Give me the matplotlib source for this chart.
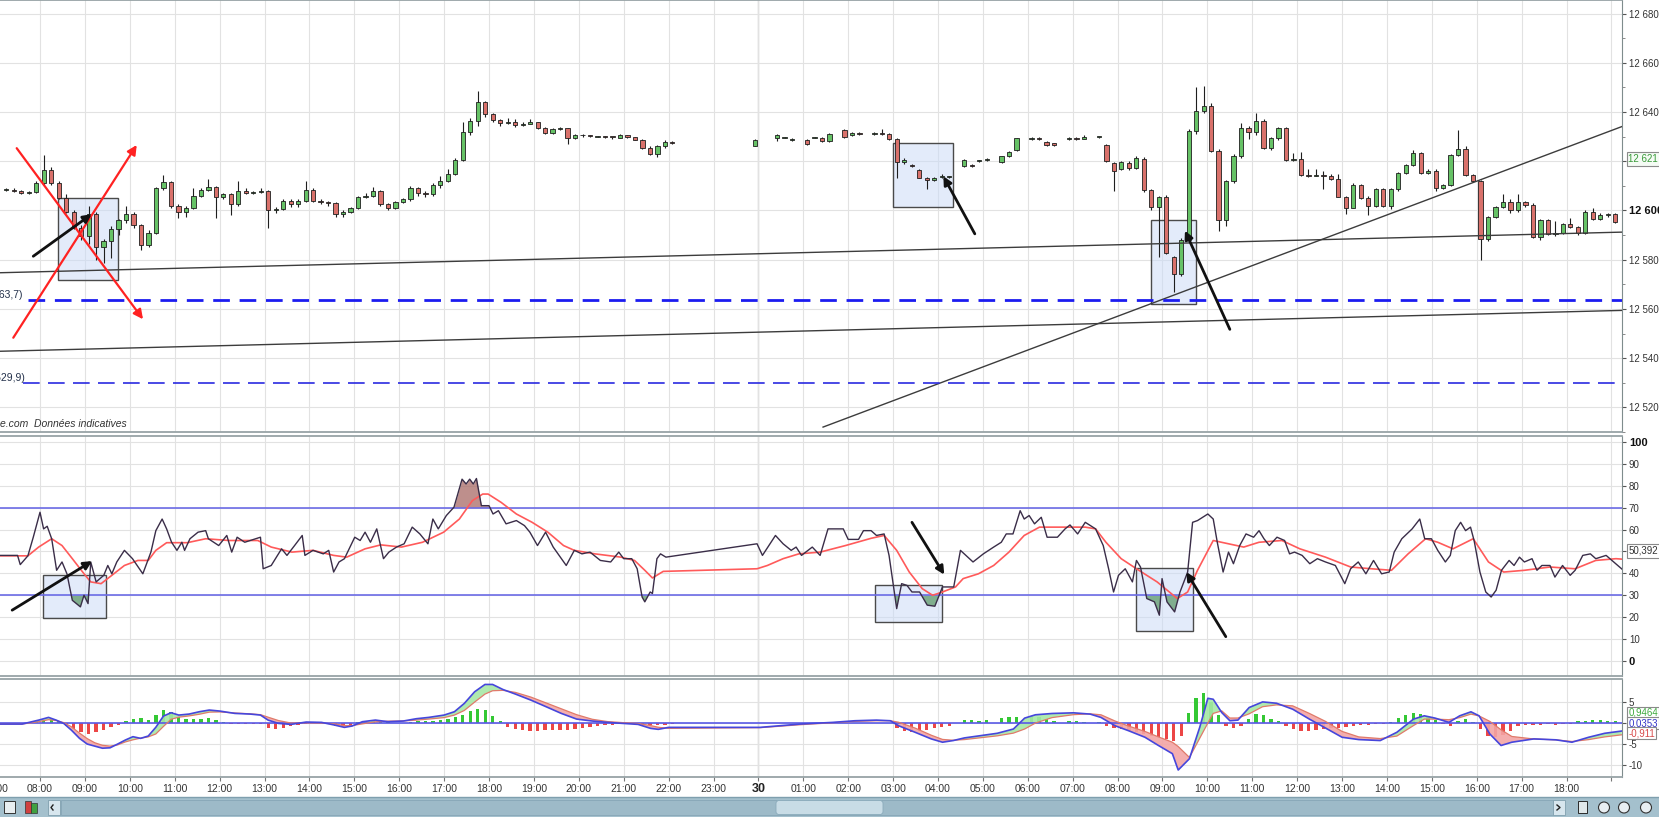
import numpy as np
import matplotlib
matplotlib.use("Agg")
import matplotlib.pyplot as plt
from matplotlib.patches import Rectangle, FancyBboxPatch
from matplotlib.transforms import blended_transform_factory as blend

plt.rcParams['font.family'] = ['Liberation Sans Narrow', 'Liberation Sans', 'DejaVu Sans']
plt.rcParams['axes.unicode_minus'] = False

W, H = 1659, 817

# x unit: hours since the 29th 00:00 (the 30th 00:00 is 24)
X_MIN, X_MAX = 7.109, 43.234

# ---------------- 10 min candles, 29th 07:10 -> 22:00 ----------------
DAY1_START = 7 + 10 / 60
o1 = [12608.5, 12608.5, 12608, 12607, 12607.5,
      12611, 12616.5, 12611, 12605, 12599.5, 12593,
      12589.5, 12598.5, 12585, 12587.5, 12592.5, 12596,
      12598.5, 12594, 12586, 12591, 12609, 12611.5,
      12602, 12599.5, 12601, 12606, 12608.5, 12609.5,
      12605.5, 12606.5, 12602.5, 12608, 12607, 12607.5,
      12608, 12600, 12600.5, 12604, 12602.5, 12604,
      12608.5, 12604, 12603.5, 12603, 12598.5, 12599.5,
      12601, 12605.5, 12606, 12608, 12602.5, 12601,
      12603.5, 12604.5, 12609, 12607, 12606.5, 12610.5,
      12612, 12615, 12620.5, 12632, 12636.5, 12644,
      12639, 12636.7, 12635.5, 12636, 12634.7, 12635.3,
      12636, 12633.5, 12631.5, 12633, 12633.5, 12629.5,
      12630.5, 12630.3, 12630, 12630, 12629.7, 12629.5,
      12630.5, 12629.8, 12628.8, 12625.5, 12622.8, 12626,
      12628]
h1 = [12609, 12609, 12608.5, 12608, 12612,
      12622.6, 12617.5, 12612, 12606.5, 12600, 12594,
      12602, 12599.5, 12588.5, 12593.5, 12596.5, 12602,
      12599.5, 12594.5, 12592, 12609.5, 12614.3, 12612,
      12602.5, 12602, 12609, 12609, 12612.6, 12610,
      12607, 12607, 12612, 12609, 12608, 12609,
      12608.5, 12601.5, 12604.5, 12604.5, 12604.5, 12612,
      12609, 12604.5, 12604, 12603.5, 12600, 12601.5,
      12606, 12607, 12609.5, 12608.5, 12603, 12604,
      12605, 12610, 12609.5, 12608, 12611, 12614,
      12617, 12621.5, 12636, 12637.5, 12648.5, 12644.5,
      12639.5, 12637, 12637.5, 12637, 12636, 12637,
      12636, 12634, 12633.5, 12634, 12633.5, 12631,
      12631, 12630.5, 12630.3, 12630.2, 12630, 12631,
      12630.8, 12630, 12629, 12626, 12626.5, 12628.5,
      12628.3]
l1 = [12608, 12607.5, 12606.5, 12606.5, 12607,
      12610.5, 12610.5, 12604.5, 12599, 12592.5, 12588,
      12586.5, 12580, 12578.5, 12580.5, 12590, 12595,
      12593, 12584, 12585, 12590.5, 12608.5, 12601,
      12597, 12597.2, 12600.5, 12605.5, 12608, 12597,
      12604.5, 12598, 12602, 12606.5, 12606.5, 12607,
      12593, 12599, 12600, 12601.5, 12601.5, 12603.5,
      12603.5, 12602.5, 12602, 12597.5, 12597.5, 12599,
      12600.5, 12605, 12605.5, 12602, 12600, 12600.5,
      12603, 12604, 12606, 12605.5, 12606, 12609,
      12611.5, 12614.5, 12620, 12630.5, 12634.5, 12638,
      12636, 12634.5, 12635, 12634, 12634.5, 12635,
      12633, 12631, 12631, 12632.5, 12627, 12629,
      12630, 12629.8, 12629.8, 12629.5, 12629.2, 12629.3,
      12629.5, 12628.5, 12625, 12622.5, 12621.7, 12625.5,
      12627]
c1 = [12608.5, 12608, 12607, 12607.5, 12611,
      12616.5, 12611, 12605, 12599.5, 12593, 12589.5,
      12598.5, 12585, 12587.5, 12592.5, 12596, 12598.5,
      12594, 12586, 12591, 12609, 12611.5, 12602,
      12599.5, 12601, 12606, 12608.5, 12609.5, 12605.5,
      12606.5, 12602.5, 12608, 12607, 12607.5, 12608,
      12600, 12600.5, 12604, 12602.5, 12604, 12608.5,
      12604, 12603.5, 12603, 12598.5, 12599.5, 12601,
      12605.5, 12606, 12608, 12602.5, 12601, 12603.5,
      12604.5, 12609, 12607, 12606.5, 12610.5, 12612,
      12615, 12620.5, 12632, 12636.5, 12644, 12639,
      12636.7, 12635.5, 12636, 12634.7, 12635.3, 12636,
      12633.5, 12631.5, 12633, 12633.5, 12629.5, 12630.5,
      12630.3, 12630, 12630, 12629.7, 12629.5, 12630.5,
      12629.8, 12628.8, 12625.5, 12622.8, 12626, 12628,
      12627.3]

# ---------------- 10 min candles, 29th 23:50 -> 30th 19:00 ----------------
DAY2_START = 23 + 50 / 60
o2 = [12626,
      None, None, 12629.5, 12629.5, 12628.5, None,
      12628.8, 12629.5, 12629.5, 12628.2, None, 12632.5,
      12630.5, 12631.5, None, 12631, 12631.5, 12631,
      12629, 12619.6, 12618.5, 12616.3, 12613, 12612.5,
      12613.5, 12613.6, None, 12617.9, 12618.5, 12620,
      12620.5, None, 12619.6, 12622, 12624.6, None,
      12629, 12629.5, 12628, 12627.3, None, 12629,
      12629.5, 12629, None, 12629.7, 12626.4, 12619.3,
      12617, 12619.3, 12617.3, 12621, 12608.2, 12601.3,
      12605.6, 12580.9, 12574.2, 12588.2, 12632.4, 12640.4,
      12642.4, 12624.3, 12596, 12612, 12622.2, 12633.6,
      12632, 12636.3, 12625.3, 12629.3, 12633.3, 12620.6,
      12621, 12614.6, 12614, 12614.6, 12613.9, 12612.7,
      12605.6, 12601.1, 12610.3, 12605, 12602, 12608.6,
      12602, 12608.6, 12615.3, 12618.6, 12623.3, 12615.3,
      12616, 12609.3, 12610.3, 12622.6, 12625, 12614.6,
      12612, 12588.6, 12597.3, 12601.3, 12603.3, 12600,
      12603.5, 12602.3, 12589.3, 12596, 12590.5, 12591,
      12594.5, 12593.2, 12591, 12599.2, 12596.5, 12598,
      12598.5]
h2 = [12629,
      None, None, 12631, 12629.8, 12629.3, None,
      12629.2, 12629.7, 12629.8, 12631.5, None, 12633,
      12632, 12632, None, 12632, 12633, 12631.3,
      12629.5, 12621.5, 12619, 12616.8, 12613.5, 12613.5,
      12614.8, 12614, None, 12620.8, 12618.8, 12620.3,
      12621.5, None, 12622.2, 12624.2, 12629.6, None,
      12629.8, 12629.8, 12628.3, 12627.5, None, 12629.8,
      12630, 12630.5, None, 12630, 12626.8, 12619.8,
      12620, 12620, 12622, 12621.8, 12608.8, 12606,
      12606.2, 12581.5, 12588.8, 12633, 12650.1, 12650.7,
      12643.5, 12625, 12612.5, 12622.8, 12635.6, 12634.5,
      12639.6, 12637, 12630, 12634, 12634, 12623.5,
      12623.6, 12617, 12616.8, 12616.2, 12615, 12614.8,
      12606, 12611, 12610.8, 12606, 12609.2, 12609,
      12609, 12615.8, 12619, 12624.6, 12623.8, 12616.8,
      12616.8, 12610.8, 12623, 12632.7, 12626.2, 12615,
      12612.5, 12597.8, 12601.8, 12606.6, 12604.5, 12606.6,
      12604, 12603, 12596.5, 12596.5, 12595.8, 12595,
      12597, 12593.5, 12600, 12601, 12598.8, 12599,
      12598.8]
l2 = [12626,
      None, None, 12628.2, 12629.3, 12628.2, None,
      12626.5, 12629.3, 12628, 12628, None, 12629.5,
      12630.3, 12630.8, None, 12630.8, 12630.8, 12628.8,
      12613, 12619, 12617.8, 12613, 12608.6, 12612,
      12613, 12613.2, None, 12617.5, 12617.5, 12619.7,
      12620, None, 12619.4, 12621.8, 12624.3, None,
      12628.7, 12628.8, 12626.2, 12626.2, None, 12628.8,
      12628.8, 12628.9, None, 12629.5, 12619.5, 12607.9,
      12616.5, 12616.5, 12617, 12607.5, 12600, 12581.2,
      12582.5, 12566.8, 12573.5, 12587.5, 12631, 12639.5,
      12623.8, 12591.5, 12593.5, 12611, 12621.5, 12629,
      12630.5, 12624.8, 12624.5, 12628.5, 12620, 12620,
      12614, 12613.5, 12613.8, 12608.6, 12612.3, 12605.3,
      12598.5, 12600.8, 12604.5, 12598, 12601.5, 12601.5,
      12600.5, 12608, 12615, 12618.2, 12614.8, 12614.8,
      12607.9, 12608.8, 12610, 12622, 12614.2, 12611.5,
      12580, 12587.5, 12596.8, 12600.8, 12599, 12599.5,
      12601.5, 12588.8, 12588, 12590, 12589.5, 12590.5,
      12592.8, 12590, 12590.5, 12596, 12596, 12597.2,
      12595]
c2 = [12628.6,
      None, None, 12630.5, 12629.5, 12629, None,
      12626.8, 12629.5, 12628.2, 12631.1, None, 12630,
      12631.5, 12631, None, 12631.5, 12631, 12629,
      12619.6, 12620.5, 12618, 12613.3, 12612.5, 12613,
      12614.2, 12613.6, None, 12620.4, 12618, 12620,
      12621, None, 12622, 12623.7, 12629.3, None,
      12629.5, 12629, 12626.4, 12626.4, None, 12629.5,
      12629, 12630, None, 12629.7, 12620, 12616,
      12619.5, 12617.3, 12621.3, 12608.2, 12601.3, 12605.6,
      12582.9, 12574.2, 12588.2, 12632.4, 12640.4, 12642.4,
      12624.3, 12596, 12612, 12622.2, 12633.6, 12632,
      12636.3, 12625.3, 12629.3, 12633.3, 12620.6, 12621,
      12614.6, 12614, 12614.6, 12613.9, 12612.7, 12605.6,
      12601.1, 12610.3, 12605, 12602, 12608.6, 12602,
      12608.6, 12615.3, 12618.6, 12623.3, 12615.3, 12616,
      12609.3, 12610.3, 12622.6, 12625, 12614.6, 12612,
      12588.6, 12597.3, 12601.3, 12603.3, 12600, 12603.5,
      12602.3, 12589.3, 12596, 12590.5, 12591, 12594.5,
      12593.2, 12591, 12599.2, 12596.5, 12598, 12598.5,
      12595.4]

# MACD histogram on the same 10 min slots
hist1 = [0, 0, 0, 0.1, 0.4,
         0.8, 1.0, 0.6, -0.6, -1.4, -2.2,
         -2.5, -2.2, -1.6, -1.0, -0.5, 0.6,
         1.0, 1.1, 0.8, 1.8, 3.1, 2.6,
         1.4, 1.0, 0.9, 1.0, 1.1, 0.8,
         0.3, -0.2, -0.3, -0.3, -0.2, -0.3,
         -1.2, -1.3, -1.1, -0.8, -0.5, -0.2,
         0.1, 0.1, -0.1, -0.7, -1.0, -0.6,
         0.2, 0.4, 0.5, 0.4, 0.2, 0.1,
         0.1, 0.2, 0.4, 0.5, 0.6, 0.8,
         1.0, 1.4, 2.0, 2.8, 3.3, 3.0,
         1.6, 0.4, -0.9, -1.5, -1.7, -1.8,
         -1.8, -1.7, -1.7, -1.6, -1.6, -1.4,
         -1.2, -1.0, -0.7, -0.5, -0.4, -0.3,
         -0.3, -0.3, -0.4, -0.5, -0.5, -0.4,
         -0.3]
hist2 = [0.1,
         None, None, 0.1, 0.1, 0.1, None,
         0.1, 0.1, 0.1, 0.1, None, 0.1,
         0.1, 0.1, None, 0.1, 0.1, -0.1,
         -1.2, -2.0, -2.2, -1.9, -1.6, -1.2,
         -0.9, -0.6, None, 0.7, 0.7, 0.6,
         0.8, None, 1.2, 1.4, 1.5, None,
         1.7, 1.4, 1.0, 0.5, None, 0.4,
         0.4, 0.3, None, 0.2, -0.6, -1.2,
         -1.5, -1.8, -2.1, -2.6, -3.0, -3.4,
         -3.9, -4.2, -3.0, 2.5, 6.0, 7.2,
         5.0, 2.0, -0.6, -1.2, -0.8, 1.0,
         2.1, 1.8, 1.0, 0.5, -0.8, -1.4,
         -1.8, -1.8, -1.7, -1.5, -1.2, -1.1,
         -0.9, -0.7, -0.5, -0.4, -0.3, -0.2,
         0.3, 1.2, 2.0, 2.5, 2.2, 1.5,
         0.8, -0.3, -0.8, 0.6, 0.9, 0.3,
         -1.5, -3.0, -3.4, -2.8, -1.8, -0.8,
         -0.4, -0.4, -0.4, -0.3, -0.4, -0.3,
         -0.2, 0.5, 0.6, 0.7, 0.7, 0.6,
         0.6]

# ---------------- RSI and its average (read points) ----------------
rsi_t = [7.09, 7.5, 7.56, 7.73, 7.85, 8.0, 8.08, 8.16, 8.26, 8.37, 8.49, 8.6, 8.72, 8.9,
         8.98, 9.07, 9.13, 9.25, 9.42, 9.51, 9.6, 9.71, 9.88, 10.06, 10.29, 10.47, 10.58,
         10.72, 10.82, 10.93, 11.05, 11.16, 11.22, 11.34, 11.52, 11.69, 11.75, 11.98, 12.16,
         12.27, 12.39, 12.56, 12.8, 12.91, 12.97, 13.15, 13.38, 13.5, 13.67, 13.84, 13.9,
         14.08, 14.31, 14.43, 14.54, 14.66, 14.78, 15.01, 15.13, 15.24, 15.36, 15.5, 15.65,
         15.77, 15.94, 16.11, 16.29, 16.46, 16.64, 16.75, 16.87, 17.05, 17.22, 17.4, 17.49,
         17.57, 17.65, 17.72, 17.83, 18.0, 18.09, 18.21, 18.38, 18.61, 18.79, 18.91, 19.08,
         19.26, 19.43, 19.72, 19.9, 20.07, 20.25, 20.48, 20.71, 20.89, 21.0, 21.18, 21.3,
         21.41, 21.47, 21.59, 21.64, 21.74, 21.82, 21.94, 23.97, 24.09, 24.38, 24.55, 24.73,
         24.84, 24.96, 25.2, 25.375, 25.55, 25.89, 26.0, 26.23, 26.34, 26.51, 26.63, 26.8,
         26.91, 27.08, 27.19, 27.31, 27.42, 27.59, 27.76, 27.93, 28.1, 28.35, 28.5, 28.78,
         29.01, 29.24, 29.41, 29.52, 29.67, 29.83, 29.92, 30.03, 30.15, 30.3, 30.43, 30.66,
         30.83, 30.94, 31.11, 31.28, 31.51, 31.68, 31.8, 31.91, 32.02, 32.17, 32.33, 32.42,
         32.51, 32.65, 32.82, 32.93, 32.99, 33.1, 33.27, 33.39, 33.56, 33.67, 33.78, 34.01,
         34.13, 34.22, 34.35, 34.47, 34.58, 34.72, 34.86, 35.03, 35.15, 35.26, 35.38, 35.55,
         35.72, 35.83, 35.94, 36.11, 36.28, 36.45, 36.63, 36.85, 37.06, 37.19, 37.36, 37.53,
         37.7, 37.88, 38.05, 38.16, 38.33, 38.56, 38.73, 38.84, 38.99, 39.13, 39.3, 39.41,
         39.52, 39.64, 39.75, 39.86, 39.94, 40.07, 40.2, 40.32, 40.43, 40.55, 40.72, 40.83,
         40.95, 41.06, 41.23, 41.34, 41.45, 41.63, 41.74, 41.91, 42.08, 42.19, 42.36, 42.53,
         42.65, 42.88, 43.05, 43.23]
rsi_v = [48.2, 48.2, 44, 48, 56.5, 67.9, 60.3, 61.5, 55.8, 41.4, 45.2, 39.8, 27.7, 24.7,
         30, 26.2, 45.2, 36.1, 39.1, 43.6, 39.8, 45.2, 50.5, 46.7, 39.8, 49.7, 59.5,
         64.8, 60.3, 54.2, 50.5, 54.2, 50.5, 55.8, 58.8, 59.5, 55.8, 52.7, 57.3,
         49.7, 56.5, 54.2, 55.8, 56.5, 42.1, 43.6, 51.2, 48.2, 52.7, 57.3, 48.2,
         50.5, 48.9, 50.5, 40.6, 45.2, 46.7, 56.5, 55, 58.8, 54.2, 60.3, 46.7,
         49.7, 52, 53.5, 61.1, 58, 53.5, 64.8, 60.3, 66.4, 70.2, 83, 80.8,
         83, 80.8, 83.3, 70.9, 70.9, 67.1, 68.6, 62.6, 64.1, 61.8, 58.8, 52.7,
         58.8, 52, 43.6, 50.5, 48.9, 49.7, 45.9, 45.2, 49.7, 46.7, 46.7, 42.1,
         29.2, 27, 31.5, 30.8, 46.7, 48.9, 47.4, 53.5, 48.2, 57.3, 53.5, 50.5,
         52, 48.2, 52, 48.2, 60.3, 60.3, 55.5, 55.5, 59.5, 59.5, 57.3, 58,
         48.2, 23.9, 35.3, 34.5, 31.5, 31.5, 25.5, 25, 33.8, 33.8, 50.5, 45.2,
         48.9, 52, 54.2, 58, 58, 68.6, 64.8, 66.4, 62.6, 65.6, 56.5, 56.5,
         60.3, 62.1, 58, 63.3, 60.3, 52.7, 42.1, 31.5, 39.1, 42.1, 36.1, 45.9,
         42.9, 28.5, 27, 20.9, 37.6, 27, 22.4, 31.5, 40.6, 63.3, 64.1, 67.1,
         64.8, 54.2, 40.6, 49.7, 44.4, 52.7, 58, 56.5, 59.5, 55.8, 52.7, 56.5,
         55, 48.9, 49.7, 48.2, 44.4, 46.7, 45.2, 43.6, 35.3, 42.1, 45.2, 39.8,
         45.9, 39.8, 40.6, 49.7, 55.8, 60.3, 64.8, 55.8, 55.8, 50.5, 45.2, 48.2,
         59.5, 63.3, 59.5, 61.1, 55, 40.6, 31.5, 29.2, 32.3, 41.4, 45.9, 43.6,
         47.4, 45.2, 46.7, 41.4, 43.6, 43.6, 38.3, 43.6, 39.1, 41.4, 48.2, 48.9,
         46.7, 48.2, 45.2, 42.0]
rsi_ma_t = [7.09, 7.73, 7.97, 8.26, 8.49, 8.72, 8.95, 9.13, 9.36, 9.6, 9.88, 10.18, 10.41,
            10.58, 10.82, 11.28, 11.69, 12.21, 12.85, 13.15, 13.61, 14.08, 14.54, 14.83,
            15.24, 15.59, 16.05, 16.52, 16.99, 17.34, 17.63, 17.86, 17.98, 18.27, 18.61,
            18.96, 19.31, 19.66, 19.9, 20.36, 20.94, 21.24, 21.47, 21.64, 21.88, 23.97,
            24.2, 24.55, 24.9, 25.375, 25.94, 26.51, 26.8, 27.08, 27.36, 27.65, 27.88,
            28.1, 28.39, 28.56, 28.9, 29.24, 29.58, 29.92, 30.26, 30.72, 31.28, 31.51,
            31.74, 32.08, 32.42, 32.88, 33.33, 33.56, 33.78, 34.13, 34.47, 34.81, 35.15,
            35.66, 36.06, 36.63, 37.19, 37.65, 38.1, 38.47, 38.86, 39.13, 39.47, 39.92,
            40.26, 40.6, 41.06, 41.63, 42.19, 42.65, 43.1, 43.23]
rsi_ma_v = [48, 48, 52, 55.8, 52.7, 46.7, 40.6, 36.1, 35.3, 39.1, 43.6, 45.9, 45.9,
            50.5, 54, 54, 55.8, 55, 55, 52, 49.7, 50.5, 48.2, 47.4,
            51.2, 53, 52, 54.2, 58.8, 64.8, 73.2, 76.2, 76.2, 72.4, 67.1,
            63.3, 58.8, 52.7, 50.5, 48.9, 47.4, 45.9, 41.4, 37.9, 40.9, 42.1,
            43.6, 46.7, 48.9, 49.7, 52.7, 56, 57.3, 50.5, 40.6, 33, 30,
            31.5, 33.8, 37.6, 39.8, 43.6, 49.7, 57.3, 61.1, 61.1, 61.1, 60.3,
            54.2, 46.7, 42.1, 36.1, 28.5, 31.5, 41.4, 55, 53.5, 52, 54.2,
            55, 51.2, 47.4, 42.9, 42.1, 41.4, 48.9, 55.8, 54.2, 51.2, 55.8,
            45.2, 40.6, 41.4, 42.9, 42.1, 45.9, 46.7, 46.5]

# ---------------- MACD and signal (read points) ----------------
macd_t = [7.11, 7.6, 7.97, 8.19, 8.36, 8.53, 8.7, 8.88, 9.05, 9.22, 9.39, 9.56, 9.73, 9.9,
          10.07, 10.24, 10.41, 10.58, 10.75, 10.92, 11.09, 11.32, 11.55, 11.77, 12.0, 12.34,
          12.68, 12.91, 13.08, 13.31, 13.59, 13.93, 14.27, 14.56, 14.78, 14.95, 15.18, 15.47,
          15.75, 16.09, 16.38, 16.66, 17.0, 17.23, 17.45, 17.68, 17.91, 18.08, 18.31, 18.59,
          18.93, 19.27, 19.61, 19.95, 20.3, 20.64, 20.98, 21.32, 21.6, 21.77, 22.0,
          24.04, 24.93, 25.66, 26.15, 26.63, 26.94, 27.12, 27.49, 27.85, 28.1, 28.34, 28.59,
          28.95, 29.32, 29.68, 29.93, 30.17, 30.54, 31.02, 31.39, 31.63, 31.94, 32.24, 32.61,
          32.91, 33.22, 33.35, 33.6, 33.83, 34.01, 34.13, 34.32, 34.5, 34.68, 34.93, 35.23,
          35.54, 35.9, 36.27, 36.63, 37.0, 37.37, 37.85, 38.22, 38.59, 38.83, 39.07, 39.38,
          39.62, 39.87, 40.05, 40.29, 40.54, 40.78, 41.27, 41.76, 42.12, 42.49, 42.85, 43.23]
macd_v = [-0.24, -0.24, 0.7, 1.35, 0.7, -0.1, -1.7, -3.65, -5.0, -5.5, -6.0, -5.9, -5.0, -4.05,
          -3.25, -3.65, -3.1, -1.0, 1.67, 2.46, 1.9, 2.14, 2.7, 3.1, 2.86, 2.3,
          2.14, 1.9, 0.7, -0.08, -0.32, 0.24, 0.16, -0.48, -1.03, -0.71, 0.32, 0.71,
          0.32, 0.48, 1.03, 1.35, 1.9, 2.7, 4.68, 7.46, 9.2, 9.2, 8.0, 6.9,
          5.48, 3.9, 2.3, 0.95, 0.48, 0.16, -0.08, -0.32, -1.27, -1.5, -1.03,
          -1.03, -0.24, 0.16, 0.55, 0.7, 0.55, -0.63, -2.2, -3.78, -4.57, -4.17, -3.54,
          -3.0, -2.44, -1.42, 1.18, 1.97, 2.28, 2.44, 2.13, 1.34, -0.63, -1.81, -3.39,
          -5.35, -7.3, -11.2, -8.5, -1.0, 5.9, 5.67, 2.5, 0.55, 0.7, 3.7, 5.04,
          4.72, 3.3, 0.95, -1.18, -3.39, -3.94, -4.17, -2.2, 0.94, 1.73, 1.18, 0.16,
          1.73, 2.68, 1.73, -2.6, -5.35, -4.57, -3.78, -4.0, -4.57, -3.39, -2.44, -1.9]
signal_v = [-0.24, -0.24, 0.32, 0.8, 0.6, 0.1, -0.9, -2.4, -3.7, -4.7, -5.3, -5.5, -5.2, -4.5,
            -4.0, -3.6, -3.3, -2.6, -0.8, 0.9, 1.4, 1.7, 2.1, 2.6, 2.65, 2.4,
            2.2, 2.0, 1.4, 0.6, 0.0, 0.05, 0.0, -0.2, -0.6, -0.6, -0.2, 0.3,
            0.45, 0.5, 0.7, 0.95, 1.3, 1.9, 3.0, 5.0, 6.9, 7.7, 7.8, 7.3,
            6.2, 4.8, 3.4, 2.0, 0.9, 0.35, 0.1, -0.1, -0.6, -1.0, -1.27,
            -1.1, -0.4, 0.08, 0.4, 0.55, 0.55, 0.2, -1.2, -2.9, -3.9, -4.1, -3.94,
            -3.5, -3.05, -2.4, -1.42, 0.0, 1.3, 2.0, 2.2, 1.97, 0.5, -0.7, -2.0,
            -3.3, -4.57, -5.6, -8.2, -3.6, 0.0, 2.3, 2.9, 1.2, 1.2, 2.2, 3.9,
            4.33, 4.1, 2.3, 0.4, -2.0, -3.3, -3.7, -3.1, -0.6, 0.94, 0.94, 0.8,
            1.3, 2.13, 1.7, 0.4, -1.6, -3.2, -3.8, -4.0, -4.4, -3.95, -3.3, -2.8]

# ---------------- drawings on the chart ----------------
trend_lines = [((7.109, 12574.7), (43.234, 12591.2)),
               ((7.109, 12542.8), (43.234, 12559.4)),
               ((25.44, 12512.0), (43.234, 12634.1))]
support_levels = [12563.7, 12529.9]
support_labels = ['(12 563,7)', '(12 529,9)']
price_boxes = [(8.41, 9.74, 12571.8, 12605.2), (27.0, 28.33, 12601.6, 12627.3),
               (32.74, 33.74, 12562.1, 12596.3)]
price_arrows = [((7.85, 12581.4), (9.15, 12598.5)), ((28.82, 12590.5), (28.12, 12613.9)),
                ((34.50, 12551.7), (33.50, 12591.8))]
red_arrows = [((7.481, 12625.3), (10.294, 12555.8)), ((7.405, 12548.3), (10.154, 12626.6))]
rsi_boxes = [(8.06, 9.48, 19.7, 39.1), (26.59, 28.1, 17.9, 34.5), (32.42, 33.67, 13.8, 42.6)]
rsi_arrows = [((7.38, 23.2), (9.16, 45.6)), ((27.42, 63.3), (28.14, 39.4)),
              ((34.41, 11.1), (33.53, 40.6))]
last_price = 12621
rsi_last = 50.392
macd_labels = [('0,9464', '#3faa3f', 2.4), ('0,0353', '#3434c8', 0.0), ('-0,911', '#d84a4a', -2.4)]

# =====================================================================
fig = plt.figure(figsize=(W / 100, H / 100), dpi=100, facecolor='white')


def rect(x0, y0, x1, y1):
    return [x0 / W, 1 - y1 / H, (x1 - x0) / W, (y1 - y0) / H]


ax_p = fig.add_axes(rect(0, 0, 1622, 432))
ax_r = fig.add_axes(rect(0, 436, 1622, 676))
ax_m = fig.add_axes(rect(0, 679, 1622, 777))

GRID = '#e2e2e2'
for ax in (ax_p, ax_r, ax_m):
    ax.set_xlim(X_MIN, X_MAX)
    ax.set_facecolor('white')
    ax.set_xticks(range(8, 44))
    ax.grid(True, color=GRID, lw=0.8, zorder=0)
    ax.set_axisbelow(True)
    ax.yaxis.tick_right()
    ax.tick_params(axis='y', direction='out', length=3, width=0.8, colors='#555',
                   labelsize=7, labelcolor='#333', pad=2)
    ax.tick_params(axis='x', length=0, labelbottom=False)
    ax.spines['left'].set_visible(False)
    ax.spines['right'].set_color('#7f8c8d')
    for s in ('top', 'bottom'):
        ax.spines[s].set_color('#97a3a6')
        ax.spines[s].set_linewidth(1.3)
    ax.axvline(24, color='#cfcfcf', lw=1.0, zorder=0)

# ---------------- price panel ----------------
ax_p.set_ylim(12512.0, 12685.5)
pticks = list(range(12520, 12681, 20))
ax_p.set_yticks(pticks)
ax_p.set_yticks(range(12510, 12690, 10), minor=True)
ax_p.tick_params(axis='y', which='minor', direction='out', length=2, color='#777')
ax_p.set_yticklabels(['' if v == last_price // 10 * 10 else f'{v // 1000} {v % 1000:03d}'
                      for v in pticks])
for lab, v in zip(ax_p.get_yticklabels(), pticks):
    if v == 12600:
        lab.set_fontweight('bold')
        lab.set_fontsize(8)
        lab.set_color('#111')

ct = np.concatenate([DAY1_START + np.arange(len(c1)) / 6,
                     DAY2_START + np.arange(len(c2)) / 6]) + 1 / 12
co = np.array(o1 + o2, dtype=float)
chi = np.array(h1 + h2, dtype=float)
clo = np.array(l1 + l2, dtype=float)
cc = np.array(c1 + c2, dtype=float)
ok = ~np.isnan(cc)
ct, co, chi, clo, cc = ct[ok], co[ok], chi[ok], clo[ok], cc[ok]

ax_p.vlines(ct, clo, chi, color='#1e1e1e', lw=0.8, zorder=3)
body = cc - co
body = np.where(np.abs(body) < 0.35, 0.35, body)
cols = np.where(cc >= co, '#66c266', '#d9716b')
ax_p.bar(ct, body, bottom=co, width=0.095, color=cols, edgecolor='#1e1e1e',
         linewidth=0.6, zorder=4)

for (ta, pa), (tb, pb) in trend_lines:
    ax_p.plot([ta, tb], [pa, pb], color='#3c3c3c', lw=1.0, zorder=5)

ax_p.hlines(support_levels[0], 7.73, X_MAX, color='#1c1cf0', lw=2.0,
            linestyles=(0, (6, 3.5)), zorder=5)
ax_p.hlines(support_levels[1], 7.62, X_MAX, color='#2a2ae0', lw=1.2,
            linestyles=(0, (10, 5)), zorder=5)
ax_p.text(7.6, support_levels[0], support_labels[0], ha='right', va='bottom',
          fontsize=7.5, color='#22304a')
ax_p.text(7.67, support_levels[1], support_labels[1], ha='right', va='bottom',
          fontsize=7.5, color='#22304a')

for t0, t1, p0, p1 in price_boxes:
    ax_p.add_patch(Rectangle((t0, p0), t1 - t0, p1 - p0, fc=(0.80, 0.86, 0.97, 0.55),
                             ec='#4a4a4a', lw=1.0, zorder=2))
for tail, tip in red_arrows:
    ax_p.annotate('', xy=tip, xytext=tail, zorder=7,
                  arrowprops=dict(arrowstyle='-|>', color='#ff2222', lw=1.6,
                                  mutation_scale=14, shrinkA=0, shrinkB=0))
for tail, tip in price_arrows:
    ax_p.annotate('', xy=tip, xytext=tail, zorder=7,
                  arrowprops=dict(arrowstyle='-|>', color='#111', lw=2.0,
                                  mutation_scale=12, shrinkA=0, shrinkB=0))

ax_p.text(0.0, 0.006, 'e.com  Données indicatives', transform=ax_p.transAxes,
          fontsize=7.5, style='italic', color='#333', ha='left', va='bottom')
ax_p.text(1.004, last_price, f'{last_price // 1000} {last_price % 1000:03d}',
          transform=blend(ax_p.transAxes, ax_p.transData), fontsize=7,
          color='#3a9a3a', va='center', ha='left', clip_on=False,
          bbox=dict(boxstyle='square,pad=0.2', fc='#f4fbf4', ec='#8a8a8a', lw=0.8))

# ---------------- RSI panel ----------------
ax_r.set_ylim(-6.85, 102.7)
rticks = list(range(0, 101, 10))
ax_r.set_yticks(rticks)
ax_r.set_yticklabels(['' if v == 50 else str(v) for v in rticks])
for lab, v in zip(ax_r.get_yticklabels(), rticks):
    if v in (0, 100):
        lab.set_fontweight('bold')
        lab.set_fontsize(8)
        lab.set_color('#111')
ax_r.axhline(70, color='#6c6ce6', lw=1.2, zorder=3)
ax_r.axhline(30, color='#6c6ce6', lw=1.2, zorder=3)
rt = np.array(rsi_t)
rv = np.array(rsi_v)
ax_r.fill_between(rt, rv, 70, where=rv > 70, interpolate=True, color='#a86a66',
                  alpha=0.75, lw=0, zorder=2)
ax_r.fill_between(rt, rv, 30, where=rv < 30, interpolate=True, color='#5f9a6a',
                  alpha=0.75, lw=0, zorder=2)
for t0, t1, v0, v1 in rsi_boxes:
    ax_r.add_patch(Rectangle((t0, v0), t1 - t0, v1 - v0, fc=(0.80, 0.86, 0.97, 0.55),
                             ec='#4a4a4a', lw=1.0, zorder=1))
ax_r.plot(rsi_ma_t, rsi_ma_v, color='#ff5a5a', lw=1.2, zorder=4)
ax_r.plot(rt, rv, color='#3a2d48', lw=1.0, zorder=5)
for tail, tip in rsi_arrows:
    ax_r.annotate('', xy=tip, xytext=tail, zorder=7,
                  arrowprops=dict(arrowstyle='-|>', color='#111', lw=2.0,
                                  mutation_scale=12, shrinkA=0, shrinkB=0))
ax_r.text(1.004, rsi_last, f'{rsi_last:.3f}'.replace('.', ','),
          transform=blend(ax_r.transAxes, ax_r.transData), fontsize=7,
          color='#333', va='center', ha='left', clip_on=False,
          bbox=dict(boxstyle='square,pad=0.2', fc='white', ec='#8a8a8a', lw=0.8))

# ---------------- MACD panel ----------------
ax_m.set_ylim(-12.86, 10.5)
ax_m.set_yticks([-10, -5, 0, 5])
ax_m.set_yticklabels(['-10', '-5', '', '5'])
ax_m.tick_params(axis='x', direction='out', length=3, color='#777')
ht = np.concatenate([DAY1_START + np.arange(len(hist1)) / 6,
                     DAY2_START + np.arange(len(hist2)) / 6]) + 1 / 12
hv = np.array(hist1 + hist2, dtype=float)
hok = ~np.isnan(hv)
ax_m.bar(ht[hok], hv[hok], width=0.075, color=np.where(hv[hok] >= 0, '#34c834', '#ec4646'),
         lw=0, zorder=2)
mt = np.array(macd_t)
mv = np.array(macd_v)
sv = np.array(signal_v)
ax_m.fill_between(mt, mv, sv, where=mv >= sv, interpolate=True, color='#a6e8a6',
                  alpha=0.9, lw=0, zorder=3)
ax_m.fill_between(mt, mv, sv, where=mv < sv, interpolate=True, color='#f3a5a5',
                  alpha=0.9, lw=0, zorder=3)
ax_m.axhline(0.0353, color='#5a5ae6', lw=1.2, zorder=4)
ax_m.plot(mt, sv, color='#e07a6a', lw=0.9, zorder=5)
ax_m.plot(mt, mv, color='#4646dc', lw=1.2, zorder=6)
for txt, col, yv in macd_labels:
    ax_m.text(1.004, yv, txt, transform=blend(ax_m.transAxes, ax_m.transData),
              fontsize=7, color=col, va='center', ha='left', clip_on=False,
              bbox=dict(boxstyle='square,pad=0.12', fc='white', ec='#8a8a8a', lw=0.8))

# time labels under the MACD panel
tb = blend(ax_m.transData, ax_m.transAxes)
for hr in range(7, 43):
    if hr == 24:
        ax_m.text(hr, -0.125, '30', transform=tb, ha='center', va='center',
                  fontsize=9, fontweight='bold', color='#222', clip_on=False)
    else:
        ax_m.text(hr, -0.125, f'{hr % 24:02d}:00', transform=tb, ha='center',
                  va='center', fontsize=7.5, color='#333', clip_on=False)

# ---------------- bottom tool bar ----------------
ov = fig.add_axes([0, 0, 1, 1], facecolor='none')
ov.set_xlim(0, W)
ov.set_ylim(H, 0)
ov.axis('off')
ov.add_patch(Rectangle((0, 797), W, 20, fc='#a4c0cd', ec='none'))
ov.plot([0, W], [797, 797], color='#7f9fae', lw=1)
ov.add_patch(Rectangle((61, 800), 1492, 15, fc='#9dbac8', ec='#86a6b6', lw=0.6))
ov.add_patch(FancyBboxPatch((776, 800.5), 107, 14, boxstyle='round,pad=0,rounding_size=3',
                            fc='#c8dce6', ec='#8aabbb', lw=0.6))
ov.add_patch(Rectangle((48, 800), 12, 15, fc='#d7e6ee', ec='#7f9fae', lw=0.6))
ov.add_patch(Rectangle((1553, 800), 12, 15, fc='#d7e6ee', ec='#7f9fae', lw=0.6))
ov.plot([53, 51, 53], [805, 807.5, 810], color='#222', lw=1)
ov.plot([1557, 1560, 1557], [805, 807.5, 810], color='#222', lw=1)
ov.add_patch(Rectangle((4, 801), 11, 12, fc='#e8eef0', ec='#333', lw=0.7))
ov.add_patch(Rectangle((25, 801), 6, 12, fc='#d04040', ec='#333', lw=0.5))
ov.add_patch(Rectangle((31, 803), 6, 10, fc='#40a040', ec='#333', lw=0.5))
for cx in (1604, 1624, 1646):
    ov.add_patch(plt.Circle((cx, 807.5), 5.5, fc='#e8eef2', ec='#333', lw=0.8))
ov.add_patch(Rectangle((1578, 801), 9, 12, fc='#e0e8ea', ec='#2a2a2a', lw=0.7))

fig.savefig('out.png', dpi=100, facecolor='white')
